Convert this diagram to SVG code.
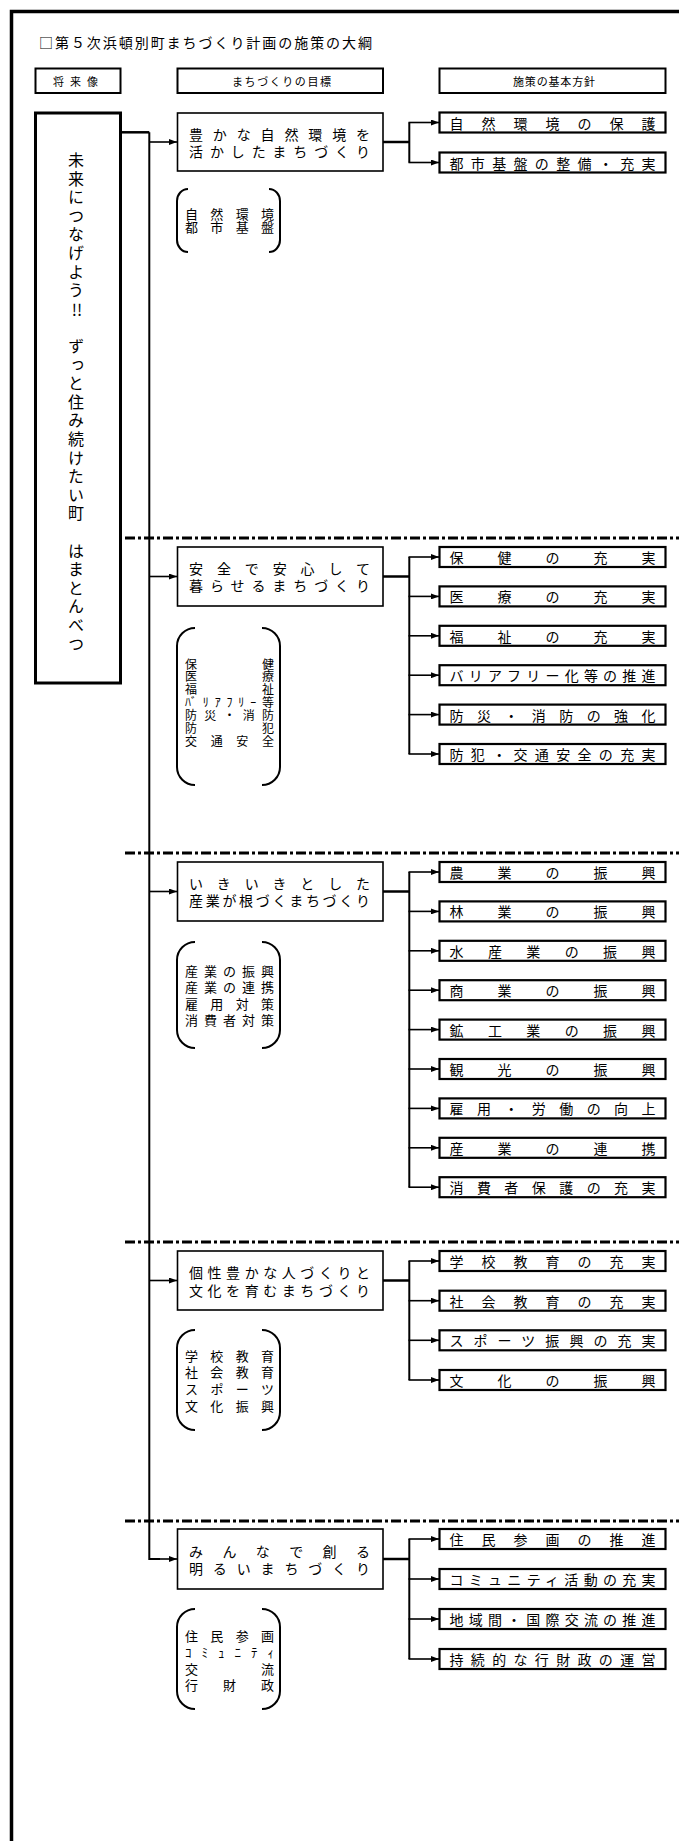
<svg xmlns="http://www.w3.org/2000/svg" width="679" height="1841" viewBox="0 0 679 1841">
<style>
text{font-family:"Noto Sans CJK JP","Noto Sans CJK SC",sans-serif;fill:#000;dominant-baseline:central}
.hb{fill:#fff;stroke:#000;stroke-width:2}
.gb{fill:#fff;stroke:#000;stroke-width:1.6}
.pb{fill:#fff;stroke:#000;stroke-width:2.2}
.ht{font-size:11px}
.gt{font-size:14px}
.pt{font-size:14px}
.bt{font-size:13px}
.bs{font-size:12px}
.br{fill:none;stroke:#000;stroke-width:2}
.sep{stroke:#000;stroke-width:3;stroke-dasharray:10 3 3 3;fill:none}
.ln{stroke:#000;stroke-width:2;fill:none}
.tk{stroke:#000;stroke-width:2.5;fill:none}
.ar{stroke:#000;stroke-width:1.6;fill:none;marker-end:url(#ah)}
</style>
<defs>
<marker id="ah" markerUnits="userSpaceOnUse" markerWidth="9" markerHeight="6" refX="8" refY="3" orient="auto"><path d="M0,0 L8,3 L0,6 z" fill="#000"/></marker>
</defs>
<rect width="679" height="1841" fill="#fff"/>
<rect x="11.5" y="11.5" width="900" height="2000" fill="none" stroke="#000" stroke-width="3.5"/>
<text x="39" y="42" font-size="14" textLength="333" lengthAdjust="spacing">□第５次浜頓別町まちづくり計画の施策の大綱</text>

<g id="headers">
<rect class="hb" x="35.5" y="68.5" width="85" height="24.5"/>
<text class="ht" x="53" y="80.5" textLength="45" lengthAdjust="spacing">将来像</text>
<rect class="hb" x="177.5" y="68.5" width="205.5" height="24.5"/>
<text class="ht" x="232" y="80.5" textLength="99" lengthAdjust="spacing">まちづくりの目標</text>
<rect class="hb" x="439.5" y="68.5" width="226" height="24.5"/>
<text class="ht" x="513" y="80.5" textLength="82" lengthAdjust="spacing">施策の基本方針</text>
</g>

<g id="vision">
<rect x="35.5" y="113" width="85" height="570" fill="#fff" stroke="#000" stroke-width="3"/>
<text x="76" y="152 170.6 189.2 207.8 226.4 245 263.6 282.2" font-size="16" style="writing-mode:vertical-rl">未来につなげよう</text>
<text x="77" y="309" font-size="16" text-anchor="middle">!!</text>
<text x="76" y="338 356.6 375.2 393.8 412.4 431 449.6 468.2 486.8 505.4" font-size="16" style="writing-mode:vertical-rl">ずっと住み続けたい町</text>
<text x="76" y="542.6 561.2 579.8 598.4 617 635.6" font-size="16" style="writing-mode:vertical-rl">はまとんべつ</text>
</g>

<g id="separators">
<line class="sep" x1="125" y1="538" x2="679" y2="538"/>
<line class="sep" x1="125" y1="853" x2="679" y2="853"/>
<line class="sep" x1="125" y1="1242" x2="679" y2="1242"/>
<line class="sep" x1="125" y1="1521" x2="679" y2="1521"/>
</g>

<g id="connectors">
<path class="tk" d="M121,132.3 H149.3"/>
<path class="ln" d="M149.3,132.3 V1559 H160"/>
<path class="ar" d="M149.3,142 H177"/>
<path class="ar" d="M149.3,576.5 H177"/>
<path class="ar" d="M149.3,891.5 H177"/>
<path class="ar" d="M149.3,1280.5 H177"/>
<path class="ar" d="M155,1559 H177"/>
<path class="tk" d="M383,142 H409.3"/>
<path class="ln" d="M409.3,122.5 V162.5"/>
<path class="ar" d="M408.5,122.5 H439"/>
<path class="ar" d="M408.5,162.5 H439"/>
<path class="tk" d="M383,576.5 H409.3"/>
<path class="ln" d="M409.3,557 V754"/>
<path class="ar" d="M408.5,557 H439"/>
<path class="ar" d="M408.5,596.4 H439"/>
<path class="ar" d="M408.5,635.8 H439"/>
<path class="ar" d="M408.5,675.2 H439"/>
<path class="ar" d="M408.5,714.6 H439"/>
<path class="ar" d="M408.5,754 H439"/>
<path class="tk" d="M383,891.5 H409.3"/>
<path class="ln" d="M409.3,872 V1187.2"/>
<path class="ar" d="M408.5,872 H439"/>
<path class="ar" d="M408.5,911.4 H439"/>
<path class="ar" d="M408.5,950.8 H439"/>
<path class="ar" d="M408.5,990.2 H439"/>
<path class="ar" d="M408.5,1029.6 H439"/>
<path class="ar" d="M408.5,1069 H439"/>
<path class="ar" d="M408.5,1108.4 H439"/>
<path class="ar" d="M408.5,1147.8 H439"/>
<path class="ar" d="M408.5,1187.2 H439"/>
<path class="tk" d="M383,1280.5 H409.3"/>
<path class="ln" d="M409.3,1261 V1380"/>
<path class="ar" d="M408.5,1261 H439"/>
<path class="ar" d="M408.5,1300.7 H439"/>
<path class="ar" d="M408.5,1340.3 H439"/>
<path class="ar" d="M408.5,1380 H439"/>
<path class="tk" d="M383,1559 H409.3"/>
<path class="ln" d="M409.3,1539 V1659"/>
<path class="ar" d="M408.5,1539 H439"/>
<path class="ar" d="M408.5,1579 H439"/>
<path class="ar" d="M408.5,1619 H439"/>
<path class="ar" d="M408.5,1659 H439"/>
</g>

<g id="goal1">
<rect class="gb" x="177.5" y="113" width="205.5" height="58"/>
<text class="gt" x="189" y="133.5" textLength="181" lengthAdjust="spacing">豊かな自然環境を</text>
<text class="gt" x="189" y="150.5" textLength="181" lengthAdjust="spacing">活かしたまちづくり</text>
</g>
<g id="bracket1">
<path class="br" d="M188,189 A11 12 0 0 0 177,201 L177,240 A11 12 0 0 0 188,252"/>
<path class="br" d="M269,189 A11 12 0 0 1 280,201 L280,240 A11 12 0 0 1 269,252"/>
<text class="bt" x="185" y="213.3" textLength="89" lengthAdjust="spacing">自然環境</text>
<text class="bt" x="185" y="226.7" textLength="89" lengthAdjust="spacing">都市基盤</text>
</g>
<g id="p1-1"><rect class="pb" x="439.5" y="112.5" width="226" height="20"/><text class="pt" x="449.5" y="122.5" textLength="206" lengthAdjust="spacing">自然環境の保護</text></g>
<g id="p1-2"><rect class="pb" x="439.5" y="152.5" width="226" height="20"/><text class="pt" x="449.5" y="162.5" textLength="206" lengthAdjust="spacing">都市基盤の整備・充実</text></g>

<g id="goal2">
<rect class="gb" x="177.5" y="547" width="205.5" height="59"/>
<text class="gt" x="189" y="568" textLength="181" lengthAdjust="spacing">安全で安心して</text>
<text class="gt" x="189" y="585" textLength="181" lengthAdjust="spacing">暮らせるまちづくり</text>
</g>
<g id="bracket2">
<path class="br" d="M195,628 A18 18 0 0 0 177,646 L177,767 A18 18 0 0 0 195,785"/>
<path class="br" d="M262,628 A18 18 0 0 1 280,646 L280,767 A18 18 0 0 1 262,785"/>
<text class="bs" x="185" y="663" textLength="89" lengthAdjust="spacing">保健</text>
<text class="bs" x="185" y="675.8" textLength="89" lengthAdjust="spacing">医療</text>
<text class="bs" x="185" y="688.6" textLength="89" lengthAdjust="spacing">福祉</text>
<text class="bs" x="185" y="701.4" textLength="89" lengthAdjust="spacing">ﾊﾞﾘｱﾌﾘｰ等</text>
<text class="bs" x="185" y="714.2" textLength="89" lengthAdjust="spacing">防災・消防</text>
<text class="bs" x="185" y="727" textLength="89" lengthAdjust="spacing">防犯</text>
<text class="bs" x="185" y="740" textLength="89" lengthAdjust="spacing">交通安全</text>
</g>
<g id="p2-1"><rect class="pb" x="439.5" y="547" width="226" height="20"/><text class="pt" x="449.5" y="557" textLength="206" lengthAdjust="spacing">保健の充実</text></g>
<g id="p2-2"><rect class="pb" x="439.5" y="586.4" width="226" height="20"/><text class="pt" x="449.5" y="596.4" textLength="206" lengthAdjust="spacing">医療の充実</text></g>
<g id="p2-3"><rect class="pb" x="439.5" y="625.8" width="226" height="20"/><text class="pt" x="449.5" y="635.8" textLength="206" lengthAdjust="spacing">福祉の充実</text></g>
<g id="p2-4"><rect class="pb" x="439.5" y="665.2" width="226" height="20"/><text class="pt" x="449.5" y="675.2" textLength="206" lengthAdjust="spacing">バリアフリー化等の推進</text></g>
<g id="p2-5"><rect class="pb" x="439.5" y="704.6" width="226" height="20"/><text class="pt" x="449.5" y="714.6" textLength="206" lengthAdjust="spacing">防災・消防の強化</text></g>
<g id="p2-6"><rect class="pb" x="439.5" y="744" width="226" height="20"/><text class="pt" x="449.5" y="754" textLength="206" lengthAdjust="spacing">防犯・交通安全の充実</text></g>

<g id="goal3">
<rect class="gb" x="177.5" y="862" width="205.5" height="59"/>
<text class="gt" x="189" y="883" textLength="181" lengthAdjust="spacing">いきいきとした</text>
<text class="gt" x="189" y="900" textLength="181" lengthAdjust="spacing">産業が根づくまちづくり</text>
</g>
<g id="bracket3">
<path class="br" d="M195,942 A18 18 0 0 0 177,960 L177,1030 A18 18 0 0 0 195,1048"/>
<path class="br" d="M262,942 A18 18 0 0 1 280,960 L280,1030 A18 18 0 0 1 262,1048"/>
<text class="bt" x="185" y="970.2" textLength="89" lengthAdjust="spacing">産業の振興</text>
<text class="bt" x="185" y="986.7" textLength="89" lengthAdjust="spacing">産業の連携</text>
<text class="bt" x="185" y="1003.2" textLength="89" lengthAdjust="spacing">雇用対策</text>
<text class="bt" x="185" y="1019.7" textLength="89" lengthAdjust="spacing">消費者対策</text>
</g>
<g id="p3-1"><rect class="pb" x="439.5" y="862" width="226" height="20"/><text class="pt" x="449.5" y="872" textLength="206" lengthAdjust="spacing">農業の振興</text></g>
<g id="p3-2"><rect class="pb" x="439.5" y="901.4" width="226" height="20"/><text class="pt" x="449.5" y="911.4" textLength="206" lengthAdjust="spacing">林業の振興</text></g>
<g id="p3-3"><rect class="pb" x="439.5" y="940.8" width="226" height="20"/><text class="pt" x="449.5" y="950.8" textLength="206" lengthAdjust="spacing">水産業の振興</text></g>
<g id="p3-4"><rect class="pb" x="439.5" y="980.2" width="226" height="20"/><text class="pt" x="449.5" y="990.2" textLength="206" lengthAdjust="spacing">商業の振興</text></g>
<g id="p3-5"><rect class="pb" x="439.5" y="1019.6" width="226" height="20"/><text class="pt" x="449.5" y="1029.6" textLength="206" lengthAdjust="spacing">鉱工業の振興</text></g>
<g id="p3-6"><rect class="pb" x="439.5" y="1059" width="226" height="20"/><text class="pt" x="449.5" y="1069" textLength="206" lengthAdjust="spacing">観光の振興</text></g>
<g id="p3-7"><rect class="pb" x="439.5" y="1098.4" width="226" height="20"/><text class="pt" x="449.5" y="1108.4" textLength="206" lengthAdjust="spacing">雇用・労働の向上</text></g>
<g id="p3-8"><rect class="pb" x="439.5" y="1137.8" width="226" height="20"/><text class="pt" x="449.5" y="1147.8" textLength="206" lengthAdjust="spacing">産業の連携</text></g>
<g id="p3-9"><rect class="pb" x="439.5" y="1177.2" width="226" height="20"/><text class="pt" x="449.5" y="1187.2" textLength="206" lengthAdjust="spacing">消費者保護の充実</text></g>

<g id="goal4">
<rect class="gb" x="177.5" y="1251" width="205.5" height="59"/>
<text class="gt" x="189" y="1272" textLength="181" lengthAdjust="spacing">個性豊かな人づくりと</text>
<text class="gt" x="189" y="1289.5" textLength="181" lengthAdjust="spacing">文化を育むまちづくり</text>
</g>
<g id="bracket4">
<path class="br" d="M195,1330 A18 18 0 0 0 177,1348 L177,1412 A18 18 0 0 0 195,1430"/>
<path class="br" d="M262,1330 A18 18 0 0 1 280,1348 L280,1412 A18 18 0 0 1 262,1430"/>
<text class="bt" x="185" y="1355" textLength="89" lengthAdjust="spacing">学校教育</text>
<text class="bt" x="185" y="1371.7" textLength="89" lengthAdjust="spacing">社会教育</text>
<text class="bt" x="185" y="1388.3" textLength="89" lengthAdjust="spacing">スポーツ</text>
<text class="bt" x="185" y="1405" textLength="89" lengthAdjust="spacing">文化振興</text>
</g>
<g id="p4-1"><rect class="pb" x="439.5" y="1251" width="226" height="20"/><text class="pt" x="449.5" y="1261" textLength="206" lengthAdjust="spacing">学校教育の充実</text></g>
<g id="p4-2"><rect class="pb" x="439.5" y="1290.7" width="226" height="20"/><text class="pt" x="449.5" y="1300.7" textLength="206" lengthAdjust="spacing">社会教育の充実</text></g>
<g id="p4-3"><rect class="pb" x="439.5" y="1330.3" width="226" height="20"/><text class="pt" x="449.5" y="1340.3" textLength="206" lengthAdjust="spacing">スポーツ振興の充実</text></g>
<g id="p4-4"><rect class="pb" x="439.5" y="1370" width="226" height="20"/><text class="pt" x="449.5" y="1380" textLength="206" lengthAdjust="spacing">文化の振興</text></g>

<g id="goal5">
<rect class="gb" x="177.5" y="1529" width="205.5" height="60"/>
<text class="gt" x="189" y="1551" textLength="181" lengthAdjust="spacing">みんなで創る</text>
<text class="gt" x="189" y="1568" textLength="181" lengthAdjust="spacing">明るいまちづくり</text>
</g>
<g id="bracket5">
<path class="br" d="M195,1609 A18 18 0 0 0 177,1627 L177,1691 A18 18 0 0 0 195,1709"/>
<path class="br" d="M262,1609 A18 18 0 0 1 280,1627 L280,1691 A18 18 0 0 1 262,1709"/>
<text class="bt" x="185" y="1635" textLength="89" lengthAdjust="spacing">住民参画</text>
<text class="bt" x="185" y="1651.7" textLength="89" lengthAdjust="spacing">ｺﾐｭﾆﾃｨ</text>
<text class="bt" x="185" y="1668.3" textLength="89" lengthAdjust="spacing">交流</text>
<text class="bt" x="185" y="1684.3" textLength="89" lengthAdjust="spacing">行財政</text>
</g>
<g id="p5-1"><rect class="pb" x="439.5" y="1529" width="226" height="20"/><text class="pt" x="449.5" y="1539" textLength="206" lengthAdjust="spacing">住民参画の推進</text></g>
<g id="p5-2"><rect class="pb" x="439.5" y="1569" width="226" height="20"/><text class="pt" x="449.5" y="1579" textLength="206" lengthAdjust="spacing">コミュニティ活動の充実</text></g>
<g id="p5-3"><rect class="pb" x="439.5" y="1609" width="226" height="20"/><text class="pt" x="449.5" y="1619" textLength="206" lengthAdjust="spacing">地域間・国際交流の推進</text></g>
<g id="p5-4"><rect class="pb" x="439.5" y="1649" width="226" height="20"/><text class="pt" x="449.5" y="1659" textLength="206" lengthAdjust="spacing">持続的な行財政の運営</text></g>
</svg>
